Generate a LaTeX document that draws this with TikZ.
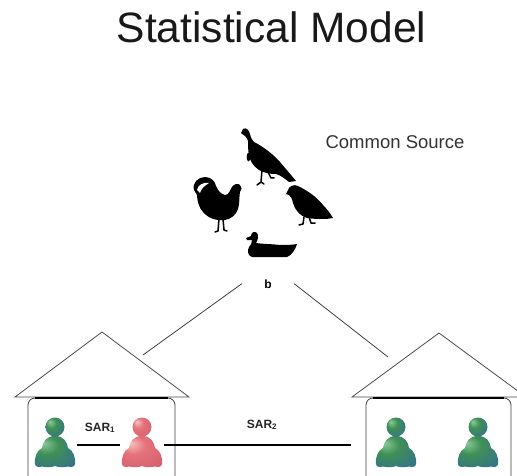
\documentclass[tikz,border=0pt]{standalone}
\usepackage{fontspec}
\setmainfont{Liberation Sans}
% soft radial shading for the person icons, lit from the upper left
\pgfdeclareradialshading[iconA,iconB,iconC]{iconshade}{\pgfpoint{-14bp}{14bp}}{%
  color(0bp)=(iconA); color(14bp)=(iconB); color(34bp)=(iconB!45!iconC); color(50bp)=(iconC)}
\definecolor{gLight}{HTML}{8CC99A}
\definecolor{gMain}{HTML}{3F9055}
\definecolor{gBlue}{HTML}{2F5FB0}
\definecolor{rLight}{HTML}{F8C2C2}
\definecolor{rMain}{HTML}{E4737C}
\definecolor{rDark}{HTML}{CC5260}
\tikzset{
  pics/person/.style n args={3}{code={
    \colorlet{iconA}{#1}\colorlet{iconB}{#2}\colorlet{iconC}{#3}
    \shade[shading=iconshade] (0,-9) .. controls (9,-9) and (12,-3) .. (13,3)
      .. controls (18,5) and (21,13) .. (20,19)
      .. controls (19.5,22) and (16,22.5) .. (13,21.5)
      .. controls (9,22.5) and (3,22.5) .. (0,21)
      .. controls (-3,22.5) and (-9,22.5) .. (-13,21.5)
      .. controls (-16,22.5) and (-19.5,22) .. (-20,19)
      .. controls (-21,13) and (-18,5) .. (-13,3)
      .. controls (-12,-3) and (-9,-9) .. (0,-9) -- cycle;
    \shade[shading=iconshade] (0,-18) circle (9.5);
  }},
  iconspot/.style={inner sep=0pt, minimum width=44pt, minimum height=50pt},
  roof/.style={draw=black!70, line width=0.8pt, line join=miter},
  housebox/.style={draw=black!75, line width=0.8pt, rounded corners=7pt},
  boxtop/.style={line width=2pt, black},
  link/.style={black, line width=1.2pt},
  spoke/.style={black!75, line width=0.8pt},
  bird/.style={fill=black},
  birdleg/.style={black, line width=1.5pt, line cap=round, line join=round},
  sarlabel/.style={font=\bfseries\fontsize{12}{14}\selectfont, text=black!85, anchor=base},
}
\begin{document}
\begin{tikzpicture}[x=1pt, y=-1pt]
\useasboundingbox (0,0) rectangle (517,476);
\clip (0,0) rectangle (517,476);
\fill[white] (0,0) rectangle (517,476);

% title and caption
\node[font=\fontsize{42.5}{48}\selectfont, text=black!90, anchor=base] (title) at (271.5,43) {Statistical Model};
\node[font=\fontsize{18.5}{21}\selectfont, text=black!80, anchor=base] (source) at (395,149) {Common Source};

% the common source: four birds
% turkey
\fill[bird] (243,129) .. controls (246,127) and (249,130) .. (250,134)
  .. controls (251,138) and (252,140) .. (254,142)
  .. controls (262,146) and (272,153) .. (280,162)
  .. controls (286,169) and (291,175) .. (296,181)
  -- (289,182)
  .. controls (284,178) and (280,175) .. (276,174)
  .. controls (270,174) and (264,173) .. (259,170)
  .. controls (253,166) and (250,161) .. (249,155)
  .. controls (248,150) and (248,146) .. (248,141)
  .. controls (247,137) and (244,135) .. (241,133) -- cycle;
\fill[bird] (248.5,157) ellipse (1.8 and 4.5);
\draw[birdleg] (262,170) -- (261,182) -- (257,185) (261,182) -- (264,184);
\draw[birdleg] (268,172) -- (271,178) -- (274,178);
% rooster
\fill[bird] (194,190) .. controls (192,183) and (198,177) .. (205,177)
  .. controls (211,177) and (215,181) .. (216,186)
  .. controls (218,191) and (221,194) .. (225,195)
  .. controls (229,195) and (230,190) .. (232,187)
  .. controls (234,184) and (238,183) .. (240,185)
  .. controls (242,187) and (242,190) .. (240,192)
  .. controls (239,196) and (240,203) .. (238,209)
  .. controls (236,215) and (231,219) .. (225,220)
  .. controls (216,221) and (208,218) .. (203,212)
  .. controls (199,208) and (197,200) .. (197,195)
  .. controls (196,193) and (195,192) .. (194,190) -- cycle;
\fill[white] (197,190) .. controls (198,185) and (203,182) .. (209,183)
  .. controls (204,186) and (201,189) .. (200,193) -- cycle;
\draw[birdleg] (219,219) -- (218,231) -- (215,232);
\draw[birdleg] (223,219) -- (224,230) -- (227,231);
% quail
\fill[bird] (288,190) .. controls (289,186) and (294,184) .. (298,186)
  .. controls (306,190) and (316,196) .. (323,205)
  .. controls (327,209) and (330,213) .. (333,218)
  -- (326,219)
  .. controls (320,219) and (313,219) .. (307,218)
  .. controls (300,216) and (295,210) .. (293,203)
  .. controls (292,199) and (291,196) .. (289,195)
  -- (286,194) -- cycle;
\draw[birdleg] (304,217) -- (303,224) -- (299,225);
\draw[birdleg] (309,217) -- (311,223) -- (315,223);
% duck
\fill[bird] (246,238) -- (251,236)
  .. controls (251,232) and (255,231) .. (257,233)
  .. controls (259,235) and (258,240) .. (256,243)
  .. controls (262,244) and (272,244) .. (280,245)
  .. controls (286,245) and (292,245) .. (297,244)
  .. controls (295,250) and (292,255) .. (287,257)
  -- (252,257)
  .. controls (248,256) and (247,251) .. (249,247)
  .. controls (251,245) and (252,243) .. (252,240)
  -- (247,240) -- cycle;

% parameter b and the spokes to the two houses
\node[font=\bfseries\fontsize{12}{13}\selectfont, anchor=base, minimum width=52pt, inner sep=1pt] (b) at (268,288) {b};
\coordinate (leftEnd) at (143,355);
\coordinate (rightEnd) at (388,357);
\draw[spoke] (b.west) -- (leftEnd);
\draw[spoke] (b.east) -- (rightEnd);

% left house
\coordinate (roofLa) at (15,397);
\coordinate (roofLb) at (102,332);
\coordinate (roofLc) at (189,397);
\draw[roof] (roofLa) -- (roofLb) -- (roofLc) -- cycle;
\draw[housebox] (28,490) -- (28,398) -- (175,398) -- (175,490);
\draw[boxtop] (35,398) -- (168,398);

% right house
\coordinate (roofRa) at (352,397);
\coordinate (roofRb) at (439,333);
\coordinate (roofRc) at (526,397);
\draw[roof] (roofRa) -- (roofRb) -- (roofRc) -- cycle;
\draw[housebox] (366,490) -- (366,398) -- (511,398) -- (511,490);
\draw[boxtop] (373,398) -- (504,398);

% people
\node[iconspot] (g1) at (55,445) {};
\node[iconspot] (r1) at (142,445) {};
\node[iconspot] (g2) at (396,445) {};
\node[iconspot] (g3) at (478,445) {};
\coordinate (sarEnd) at (351,445);
\draw[link] (g1.east) -- (r1.west);
\draw[link] (r1.east) -- (sarEnd);
\pic at (g1) {person={gLight}{gMain}{gBlue}};
\pic at (r1) {person={rLight}{rMain}{rDark}};
\pic at (g2) {person={gLight}{gMain}{gBlue}};
\pic at (g3) {person={gLight}{gMain}{gBlue}};

\node[sarlabel] (sar1) at (100,431) {SAR\textsubscript{1}};
\node[sarlabel] (sar2) at (262,428) {SAR\textsubscript{2}};
\end{tikzpicture}
\end{document}
